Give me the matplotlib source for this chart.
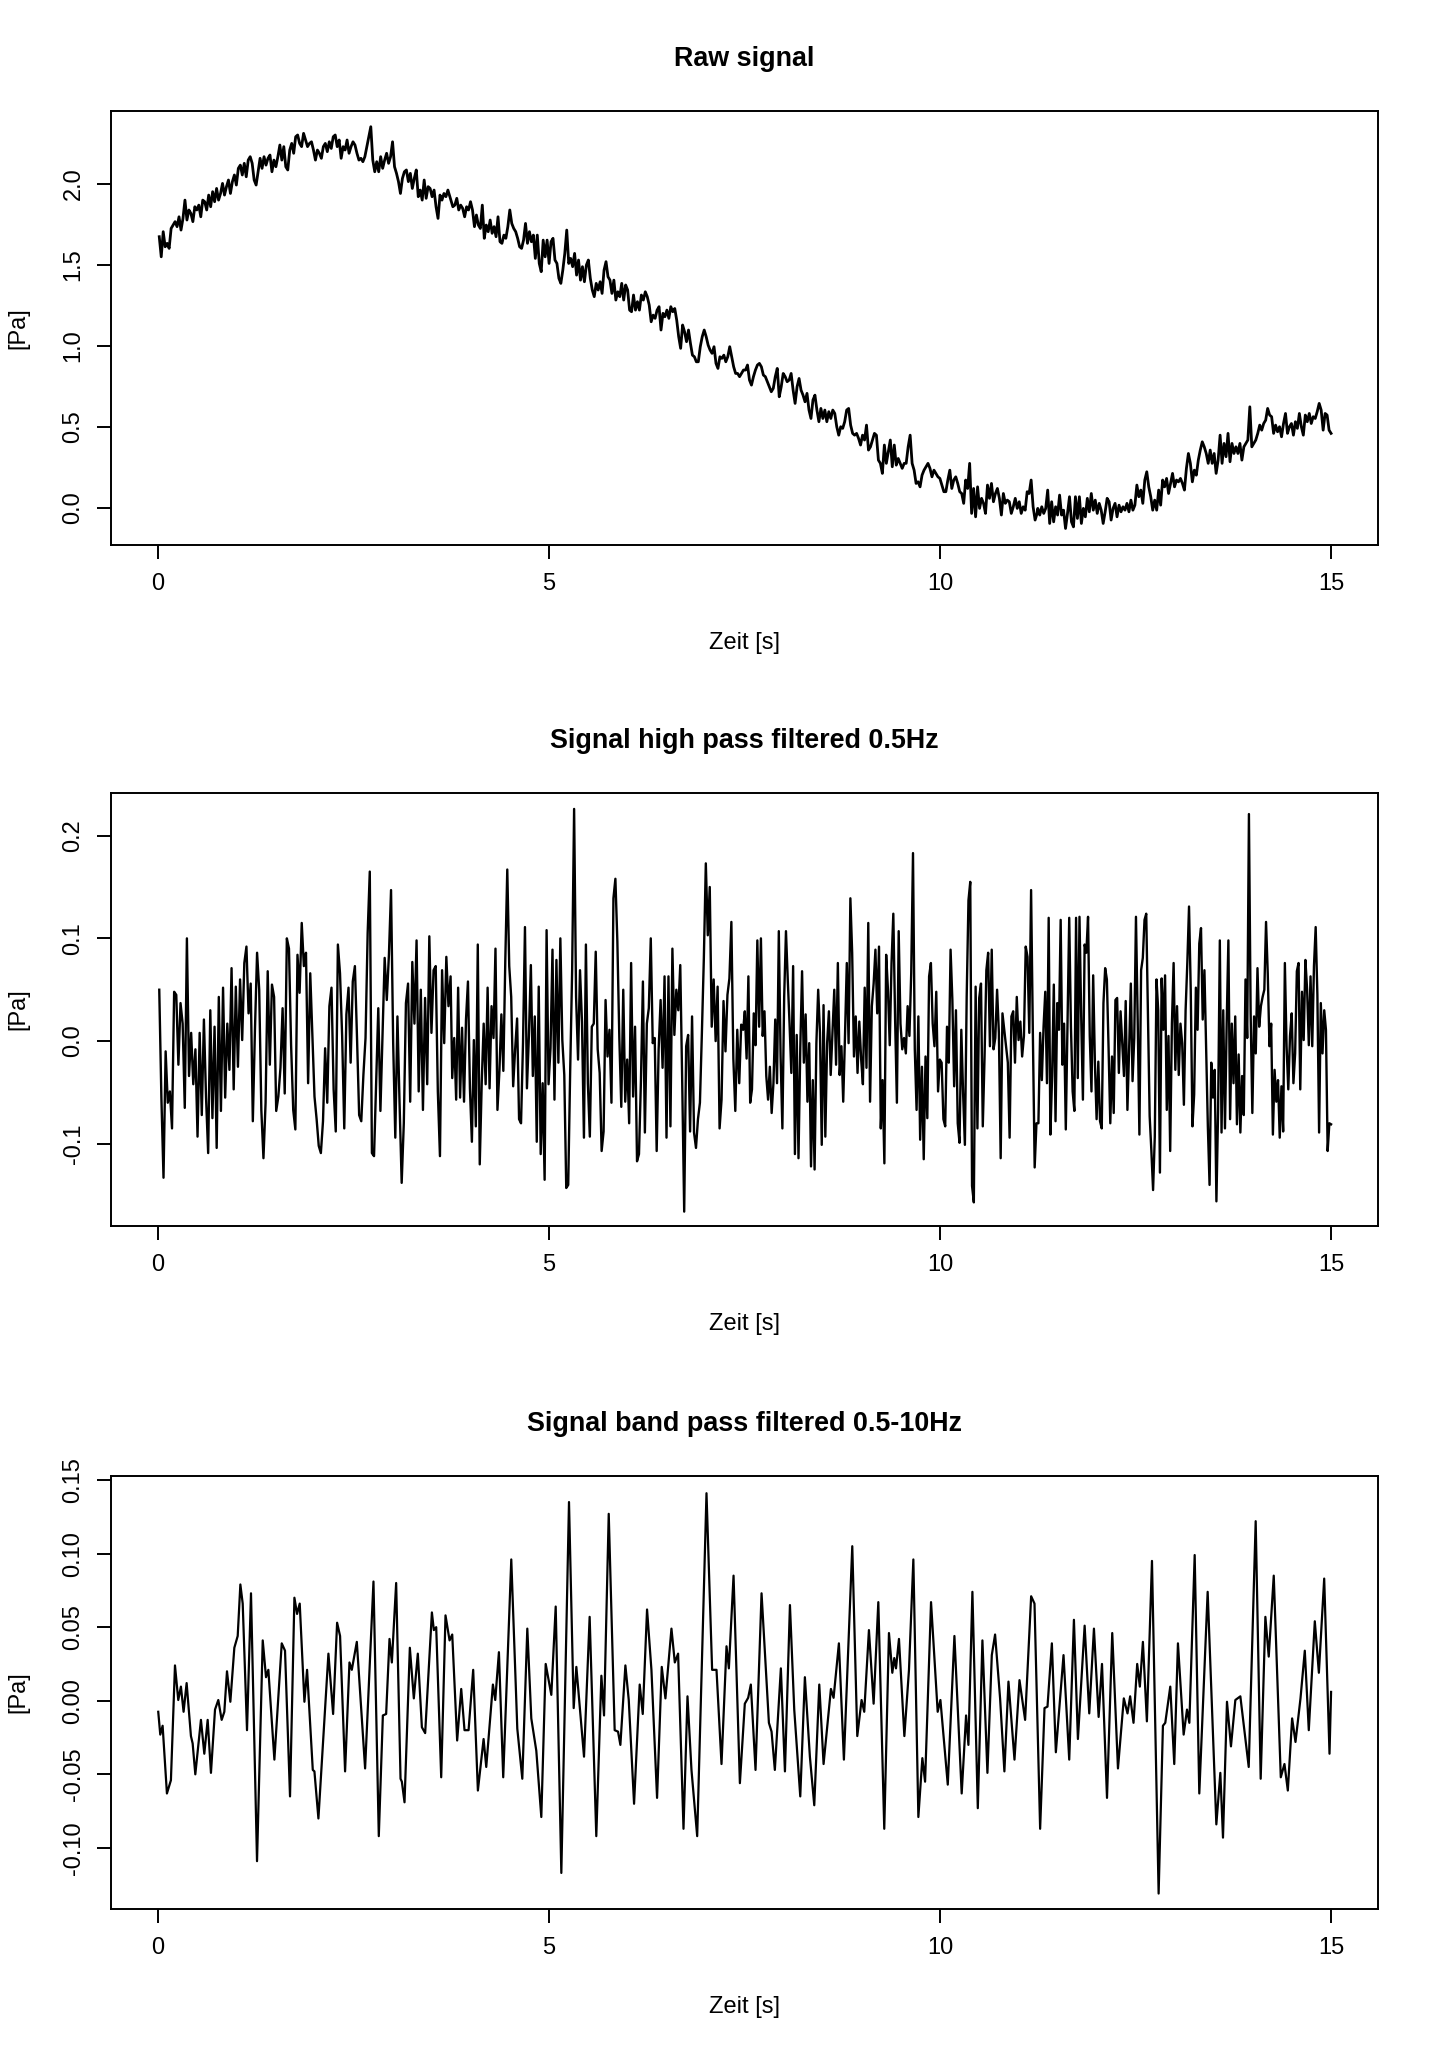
import numpy as np
import matplotlib
matplotlib.use("Agg")
import matplotlib.pyplot as plt

plt.rcParams['font.family'] = ['Liberation Sans', 'DejaVu Sans']

# ---------------- text ----------------
titles = ["Raw signal", "Signal high pass filtered 0.5Hz", "Signal band pass filtered 0.5-10Hz"]
x_label = "Zeit [s]"
y_label = "[Pa]"
x_ticks = [0, 5, 10, 15]
raw_yticks = [0.0, 0.5, 1.0, 1.5, 2.0]
raw_yticklabels = ["0.0", "0.5", "1.0", "1.5", "2.0"]
hp_yticks = [-0.1, 0.0, 0.1, 0.2]
hp_yticklabels = ["-0.1", "0.0", "0.1", "0.2"]
bp_yticks = [-0.10, -0.05, 0.00, 0.05, 0.10, 0.15]
bp_yticklabels = ["-0.10", "-0.05", "0.00", "0.05", "0.10", "0.15"]

# ---------------- raw signal (uniform samples per segment) ----------------
raw_bounds = [(0.017, 3.733), (3.771, 7.487), (7.513, 11.241), (11.250, 15.0)]
raw_seg1 = [1.675, 1.551, 1.706, 1.613, 1.634, 1.603, 1.726, 1.747, 1.768, 1.737, 1.798, 1.716, 1.788, 1.901,
            1.778, 1.840, 1.819, 1.768, 1.860, 1.840, 1.870, 1.798, 1.901, 1.891, 1.840, 1.932, 1.860, 1.953,
            1.891, 1.973, 1.901, 1.942, 2.004, 1.932, 1.984, 2.025, 1.942, 2.015, 2.056, 1.994, 2.097, 2.117,
            2.056, 2.128, 2.045, 2.148, 2.169, 2.128, 2.025, 1.994, 2.076, 2.159, 2.097, 2.169, 2.117, 2.159,
            2.179, 2.076, 2.148, 2.107, 2.169, 2.241, 2.148, 2.231, 2.107, 2.087, 2.210, 2.251, 2.190, 2.292,
            2.303, 2.251, 2.231, 2.313, 2.272, 2.231, 2.251, 2.261, 2.210, 2.148, 2.210, 2.190, 2.159, 2.231,
            2.251, 2.200, 2.261, 2.220, 2.292, 2.303, 2.231, 2.272, 2.159, 2.231, 2.210, 2.272, 2.190, 2.231,
            2.261, 2.241, 2.190, 2.148, 2.159, 2.138, 2.169, 2.231, 2.292, 2.354, 2.148, 2.076, 2.138, 2.076,
            2.169, 2.097, 2.148, 2.190, 2.128, 2.169, 2.261, 2.107, 2.066, 2.015, 1.942, 2.035, 2.076, 2.087,
            2.015, 2.066, 1.973, 2.035, 2.087, 1.922, 1.963, 1.901, 2.025, 1.912, 1.984, 1.973, 1.922, 1.963,
            1.860, 1.788, 1.932, 1.901, 1.942, 1.922, 1.963, 1.922]
raw_seg2 = [1.860, 1.870, 1.912, 1.840, 1.870, 1.850, 1.798, 1.860, 1.840, 1.891, 1.840, 1.737, 1.809, 1.747,
            1.726, 1.870, 1.665, 1.747, 1.706, 1.778, 1.696, 1.737, 1.675, 1.798, 1.644, 1.634, 1.685, 1.665,
            1.737, 1.840, 1.757, 1.726, 1.706, 1.665, 1.613, 1.603, 1.654, 1.757, 1.634, 1.706, 1.644, 1.685,
            1.541, 1.685, 1.510, 1.459, 1.654, 1.551, 1.654, 1.510, 1.644, 1.665, 1.531, 1.510, 1.418, 1.387,
            1.469, 1.572, 1.716, 1.510, 1.541, 1.490, 1.572, 1.438, 1.531, 1.407, 1.490, 1.397, 1.500, 1.531,
            1.418, 1.346, 1.305, 1.387, 1.346, 1.397, 1.325, 1.469, 1.521, 1.428, 1.407, 1.325, 1.407, 1.284,
            1.335, 1.305, 1.387, 1.284, 1.377, 1.346, 1.222, 1.212, 1.315, 1.222, 1.274, 1.222, 1.315, 1.284,
            1.335, 1.305, 1.253, 1.150, 1.191, 1.171, 1.222, 1.243, 1.099, 1.202, 1.181, 1.222, 1.171, 1.243,
            1.212, 1.232, 1.160, 1.058, 0.986, 1.130, 1.088, 1.027, 1.099, 1.016, 0.944, 0.934, 0.903, 0.903,
            0.996, 1.058, 1.099, 1.058, 1.006, 0.975, 0.955, 0.996, 0.893, 0.862, 0.934, 0.924, 0.944, 0.903,
            0.934, 0.996, 0.934, 0.872, 0.831, 0.831, 0.811, 0.831, 0.852]
raw_seg3 = [0.852, 0.883, 0.790, 0.759, 0.811, 0.852, 0.883, 0.893, 0.872, 0.821, 0.811, 0.780, 0.749, 0.718,
            0.739, 0.811, 0.862, 0.687, 0.749, 0.831, 0.811, 0.780, 0.790, 0.831, 0.728, 0.646, 0.749, 0.800,
            0.728, 0.697, 0.656, 0.708, 0.605, 0.553, 0.667, 0.697, 0.605, 0.533, 0.615, 0.553, 0.605, 0.533,
            0.595, 0.553, 0.605, 0.584, 0.502, 0.450, 0.502, 0.492, 0.533, 0.605, 0.615, 0.512, 0.461, 0.450,
            0.461, 0.430, 0.389, 0.450, 0.420, 0.512, 0.358, 0.378, 0.420, 0.461, 0.450, 0.296, 0.276, 0.214,
            0.389, 0.276, 0.348, 0.420, 0.255, 0.389, 0.265, 0.306, 0.276, 0.245, 0.276, 0.276, 0.378, 0.450,
            0.276, 0.234, 0.152, 0.162, 0.131, 0.203, 0.234, 0.255, 0.276, 0.245, 0.193, 0.234, 0.214, 0.193,
            0.183, 0.142, 0.101, 0.101, 0.173, 0.234, 0.121, 0.173, 0.193, 0.152, 0.101, 0.090, 0.029, 0.173,
            0.121, 0.276, -0.033, 0.121, -0.054, 0.131, -0.002, 0.060, 0.029, -0.033, 0.142, 0.060, 0.152,
            0.039, 0.090, 0.121, 0.060, -0.043, 0.090, 0.029, 0.049, 0.039, -0.033, 0.008, 0.060, -0.002,
            0.039, -0.033, 0.008, -0.013, 0.101, 0.090, 0.173, 0.008, -0.074, -0.033]
raw_seg4 = [-0.002, -0.043, 0.008, -0.033, -0.002, 0.111, -0.095, 0.039, -0.085, 0.008, -0.043, 0.080, -0.043,
            -0.013, -0.126, -0.033, 0.070, -0.085, -0.116, 0.070, -0.064, 0.070, -0.095, -0.002, -0.054, 0.060,
            -0.023, 0.090, -0.013, 0.049, -0.033, 0.029, -0.013, -0.095, -0.023, 0.060, 0.039, -0.074, -0.002,
            0.029, -0.054, 0.018, -0.023, 0.008, -0.013, 0.029, -0.023, 0.049, -0.013, 0.018, 0.142, 0.070,
            0.111, 0.029, 0.173, 0.224, 0.131, 0.070, -0.013, 0.049, -0.013, 0.111, 0.018, 0.173, 0.131, 0.183,
            0.090, 0.152, 0.214, 0.131, 0.173, 0.162, 0.183, 0.152, 0.111, 0.245, 0.337, 0.276, 0.162, 0.234,
            0.203, 0.296, 0.358, 0.409, 0.378, 0.337, 0.276, 0.358, 0.276, 0.337, 0.214, 0.296, 0.450, 0.276,
            0.399, 0.317, 0.461, 0.286, 0.399, 0.337, 0.378, 0.337, 0.399, 0.296, 0.378, 0.399, 0.420, 0.625,
            0.378, 0.399, 0.420, 0.461, 0.512, 0.481, 0.522, 0.543, 0.615, 0.574, 0.564, 0.461, 0.512, 0.471,
            0.502, 0.440, 0.522, 0.584, 0.461, 0.502, 0.522, 0.450, 0.533, 0.492, 0.584, 0.502, 0.450, 0.574,
            0.533, 0.584, 0.522, 0.564, 0.553, 0.595, 0.646, 0.605, 0.481, 0.584, 0.574, 0.481, 0.461]

# ---------------- high pass signal ----------------
hp_bounds = [(0.017, 3.742), (3.763, 7.483), (7.504, 11.233), (11.258, 15.0)]
hp_seg1 = [0.050, -0.055, -0.133, -0.010, -0.060, -0.049, -0.085, 0.048, 0.045, -0.023,
           0.037, 0.017, -0.065, 0.100, -0.034, 0.008, -0.042, -0.008, -0.093, 0.008,
           -0.072, 0.021, -0.055, -0.109, 0.030, -0.075, 0.014, -0.104, 0.043, -0.068,
           0.052, -0.055, 0.017, -0.028, 0.071, -0.047, 0.053, -0.025, 0.060, 0.001,
           0.076, 0.092, 0.027, 0.056, -0.078, 0.011, 0.086, 0.050, -0.067, -0.114,
           -0.060, 0.068, -0.023, 0.055, 0.043, -0.068, -0.054, -0.026, 0.032, -0.051,
           0.100, 0.090, -0.004, -0.067, -0.086, 0.084, 0.047, 0.115, 0.073, 0.086,
           -0.041, 0.066, 0.005, -0.054, -0.076, -0.102, -0.109, -0.078, -0.007, -0.060,
           0.034, 0.052, -0.047, -0.088, 0.094, 0.066, 0.005, -0.085, 0.026, 0.052,
           -0.021, 0.058, 0.073, 0.003, -0.072, -0.078, -0.033, 0.003, 0.105, 0.165,
           -0.109, -0.112, -0.041, 0.032, -0.068, 0.006, 0.081, 0.040, 0.084, 0.147,
           -0.002, -0.094, 0.024, -0.060, -0.138, -0.080, 0.037, 0.056, -0.059, 0.077,
           0.017, 0.098, -0.049, 0.050, -0.067, 0.042, -0.042, 0.102, 0.008, 0.069,
           0.073, -0.049, -0.112, 0.069, -0.002, 0.082, 0.034, 0.063]
hp_seg2 = [-0.036, 0.003, -0.057, 0.052, -0.055, 0.013, -0.059, 0.021, 0.058, -0.046, -0.098, 0.001, -0.083,
           0.094, -0.120, -0.041, 0.017, -0.042, 0.052, -0.046, 0.034, 0.003, 0.090, -0.067, -0.029, 0.026,
           -0.029, 0.079, 0.167, 0.073, 0.043, -0.044, -0.008, 0.022, -0.076, -0.080, -0.002, 0.111, -0.046,
           0.005, 0.074, -0.034, 0.024, -0.098, 0.053, -0.110, -0.041, -0.135, 0.108, -0.042, -0.007, 0.089,
           -0.057, 0.079, -0.021, 0.100, 0.001, -0.033, -0.143, -0.140, -0.029, 0.069, 0.226, 0.043, -0.018,
           0.069, 0.019, -0.094, 0.094, -0.041, -0.093, 0.014, 0.017, 0.087, -0.008, -0.031, -0.107, -0.088,
           0.040, -0.015, 0.011, -0.060, 0.139, 0.158, 0.097, 0.003, -0.064, 0.050, -0.059, -0.018, -0.080,
           0.076, -0.054, 0.014, -0.117, -0.110, -0.038, 0.058, -0.089, 0.017, 0.032, 0.100, -0.002, 0.003,
           -0.107, -0.008, 0.040, -0.026, 0.063, -0.094, 0.063, -0.083, 0.090, 0.006, 0.050, 0.030, 0.074,
           -0.041, -0.166, -0.005, 0.006, -0.088, 0.024, -0.089, -0.104, -0.076, -0.060, 0.008, 0.081, 0.173,
           0.103, 0.150, 0.014, 0.060, 0.000, 0.053, -0.085, -0.057, 0.039, -0.010, 0.045, 0.061, 0.116,
           -0.017, -0.068, 0.011, -0.041, 0.016, 0.011]
hp_seg3 = [0.029, -0.017, 0.063, -0.060, -0.047, 0.027, -0.004, 0.098, 0.014, 0.100, 0.005, 0.029, -0.034,
           -0.057, -0.025, -0.070, -0.041, 0.021, -0.041, 0.107, -0.015, -0.085, 0.043, 0.107, 0.060, 0.017,
           -0.031, 0.073, -0.110, 0.006, -0.114, -0.007, 0.068, -0.021, 0.026, -0.059, -0.002, -0.122, -0.038,
           -0.125, -0.002, 0.050, 0.008, -0.101, 0.035, -0.093, -0.002, 0.029, -0.033, 0.008, 0.050, -0.023,
           0.076, -0.033, -0.005, -0.059, 0.006, 0.076, -0.002, 0.139, 0.086, -0.015, 0.024, -0.031, 0.019,
           -0.017, -0.042, 0.052, -0.026, 0.115, -0.059, 0.034, 0.056, 0.089, 0.027, 0.092, -0.085, -0.038,
           -0.119, 0.084, 0.050, -0.004, 0.076, 0.124, 0.021, -0.060, 0.107, 0.017, -0.008, 0.003, -0.012,
           0.034, 0.005, 0.066, 0.183, -0.008, -0.067, 0.024, -0.096, -0.025, -0.115, -0.015, -0.075, 0.063,
           0.076, 0.017, -0.005, 0.048, -0.049, -0.018, -0.021, -0.076, -0.083, 0.014, -0.021, 0.089, 0.040,
           -0.044, 0.030, -0.080, -0.099, 0.011, -0.051, -0.101, 0.043, 0.137, 0.155, -0.141, -0.157, 0.053,
           -0.085, 0.042, 0.056, -0.083, -0.015, 0.069, 0.086, -0.005, 0.089, -0.008, 0.003, 0.050, 0.008,
           -0.114, 0.027, 0.011, -0.005, -0.021, -0.094, 0.024, 0.029, -0.021, 0.043, 0.001, 0.019, -0.015,
           0.005, 0.092, 0.082, 0.008, 0.147, 0.006, -0.123, -0.080]
hp_seg4 = [-0.080, 0.008, -0.038, 0.014, 0.048, -0.041, 0.120, -0.091, -0.034, 0.055, -0.078, 0.037, 0.011,
           0.118, -0.023, 0.017, -0.086, 0.017, 0.120, 0.014, -0.049, -0.068, 0.120, -0.036, 0.121, 0.024,
           -0.057, 0.094, 0.086, 0.121, 0.005, -0.049, 0.064, -0.021, -0.076, -0.020, -0.078, -0.085, 0.037,
           0.071, 0.060, -0.007, -0.080, -0.015, -0.070, 0.040, 0.042, -0.031, 0.029, -0.002, -0.034, 0.039,
           -0.067, -0.008, 0.056, -0.039, 0.003, 0.121, 0.021, -0.091, 0.069, 0.081, 0.118, 0.124, 0.024,
           -0.073, -0.107, -0.145, -0.093, 0.060, 0.030, -0.128, 0.061, 0.011, 0.064, -0.067, 0.005, -0.107,
           0.017, 0.076, -0.028, 0.034, -0.033, 0.017, -0.002, -0.062, 0.030, 0.076, 0.131, 0.050, -0.083,
           -0.052, 0.052, 0.011, 0.095, 0.110, 0.021, 0.069, -0.008, -0.083, -0.140, -0.021, -0.055, -0.028,
           -0.156, -0.067, 0.098, -0.089, 0.030, -0.085, 0.017, 0.098, -0.076, 0.017, -0.041, 0.024, -0.081,
           -0.013, -0.089, -0.034, -0.072, 0.060, 0.003, 0.221, 0.027, -0.070, 0.024, -0.012, 0.071, 0.014,
           0.034, 0.043, 0.050, 0.116, 0.066, -0.005, 0.017, -0.091, -0.028, -0.059, -0.038, -0.094, -0.044,
           -0.088, 0.076, -0.005, -0.047, 0.005, 0.027, -0.041, -0.012, 0.068, 0.076, -0.047, 0.048, 0.001,
           0.079, 0.050, -0.004, 0.063, -0.005, 0.073, 0.111, 0.045, -0.089, 0.037, -0.012, 0.030, 0.011,
           -0.107, -0.080, -0.081]

# ---------------- band pass signal: (time, value) readings ----------------
bp_points = [
    (0.004, -0.0075), (0.030, -0.023), (0.060, -0.017), (0.115, -0.063), (0.166, -0.054), (0.218, 0.024),
    (0.260, 0.0005), (0.294, 0.0096), (0.328, -0.0075), (0.367, 0.012), (0.422, -0.024), (0.444, -0.029),
    (0.478, -0.050), (0.550, -0.013), (0.593, -0.036), (0.636, -0.013), (0.678, -0.049), (0.730, -0.006),
    (0.772, 0.0005), (0.815, -0.013), (0.849, -0.0075), (0.883, 0.020), (0.926, -0.0007), (0.977, 0.036),
    (1.020, 0.044), (1.054, 0.079), (1.084, 0.066), (1.139, -0.020), (1.190, 0.073), (1.267, -0.109),
    (1.340, 0.041), (1.382, 0.016), (1.412, 0.021), (1.489, -0.040), (1.583, 0.039), (1.625, 0.034),
    (1.689, -0.065), (1.745, 0.070), (1.779, 0.059), (1.813, 0.066), (1.873, -0.0007), (1.907, 0.021),
    (1.980, -0.047), (2.001, -0.048), (2.052, -0.080), (2.180, 0.032), (2.240, -0.009), (2.291, 0.053),
    (2.329, 0.044), (2.393, -0.048), (2.449, 0.026), (2.479, 0.021), (2.543, 0.040), (2.649, -0.046),
    (2.756, 0.081), (2.824, -0.092), (2.876, -0.010), (2.918, -0.009), (2.961, 0.042), (2.991, 0.026),
    (3.046, 0.080), (3.102, -0.053), (3.119, -0.055), (3.153, -0.069), (3.221, 0.036), (3.272, 0.0016),
    (3.323, 0.032), (3.375, -0.018), (3.417, -0.022), (3.503, 0.060), (3.528, 0.048), (3.558, 0.050),
    (3.622, -0.052),
    (3.677, 0.058), (3.729, 0.041), (3.763, 0.045), (3.826, -0.027), (3.878, 0.008), (3.920, -0.020),
    (3.972, -0.020), (4.031, 0.021), (4.091, -0.061), (4.164, -0.026), (4.198, -0.045), (4.283, 0.011),
    (4.313, 0.0005), (4.360, 0.033), (4.415, -0.052), (4.518, 0.096), (4.595, -0.019), (4.659, -0.053),
    (4.723, 0.049), (4.774, -0.012), (4.838, -0.034), (4.902, -0.079), (4.958, 0.025), (5.030, 0.004),
    (5.086, 0.064), (5.158, -0.117), (5.256, 0.135), (5.316, -0.005), (5.350, 0.023), (5.448, -0.038),
    (5.520, 0.057), (5.605, -0.092), (5.670, 0.017), (5.704, -0.010), (5.764, 0.127), (5.840, -0.020),
    (5.883, -0.021), (5.913, -0.030), (5.977, 0.024), (6.020, 0.0005), (6.088, -0.070), (6.160, 0.011),
    (6.199, -0.009), (6.254, 0.062), (6.310, 0.021), (6.382, -0.066), (6.442, 0.023), (6.489, 0.0016),
    (6.566, 0.049), (6.609, 0.026), (6.651, 0.032), (6.720, -0.087), (6.771, 0.003), (6.822, -0.047),
    (6.895, -0.092), (7.014, 0.141), (7.086, 0.021), (7.142, 0.021), (7.206, -0.043), (7.270, 0.037),
    (7.300, 0.022), (7.360, 0.085), (7.441, -0.056),
    (7.504, -0.002), (7.547, 0.002), (7.581, 0.011), (7.641, -0.047), (7.718, 0.073), (7.812, -0.015),
    (7.846, -0.021), (7.888, -0.047), (7.965, 0.022), (8.017, -0.048), (8.081, 0.065), (8.136, -0.006),
    (8.213, -0.065), (8.272, 0.016), (8.336, -0.038), (8.392, -0.071), (8.456, 0.011), (8.511, -0.043),
    (8.605, 0.008), (8.639, 0.002), (8.707, 0.039), (8.771, -0.040), (8.878, 0.105), (8.942, -0.024),
    (8.997, 0.0005), (9.031, -0.0075), (9.091, 0.048), (9.151, -0.002), (9.211, 0.067), (9.287, -0.087),
    (9.347, 0.046), (9.390, 0.019), (9.415, 0.029), (9.437, 0.022), (9.475, 0.042), (9.544, -0.024),
    (9.603, 0.021), (9.659, 0.096), (9.723, -0.079), (9.774, -0.039), (9.809, -0.055), (9.885, 0.067),
    (9.970, -0.0075), (10.005, 0.0005), (10.099, -0.057), (10.184, 0.044), (10.277, -0.063), (10.333, -0.010),
    (10.363, -0.030), (10.414, 0.074), (10.483, -0.073), (10.542, 0.041), (10.606, -0.049), (10.662, 0.031),
    (10.704, 0.045), (10.768, 0.0016), (10.823, -0.048), (10.875, 0.013), (10.952, -0.040), (11.016, 0.014),
    (11.088, -0.013), (11.165, 0.071), (11.208, 0.066),
    (11.280, -0.087), (11.336, -0.005), (11.374, -0.004), (11.430, 0.039), (11.481, -0.035), (11.579, 0.031),
    (11.652, -0.040), (11.712, 0.055), (11.763, -0.026), (11.849, 0.051), (11.908, -0.0086), (11.968, 0.049),
    (12.028, -0.011), (12.071, 0.025), (12.135, -0.066), (12.202, 0.046), (12.275, -0.046), (12.350, 0.0016),
    (12.397, -0.0086), (12.431, 0.003), (12.474, -0.015), (12.521, 0.025), (12.555, 0.0096), (12.594, 0.040),
    (12.645, -0.014), (12.710, 0.095), (12.795, -0.131), (12.850, -0.017), (12.880, -0.015), (12.944, 0.0096),
    (12.995, -0.043), (13.042, 0.039), (13.115, -0.023), (13.158, -0.006), (13.188, -0.015), (13.256, 0.099),
    (13.315, -0.063), (13.422, 0.074), (13.533, -0.084), (13.584, -0.049), (13.618, -0.093), (13.669, -0.0007),
    (13.720, -0.031), (13.776, 0.0005), (13.840, 0.003), (13.947, -0.045), (14.036, 0.122), (14.100, -0.053),
    (14.160, 0.057), (14.203, 0.030), (14.267, 0.085), (14.357, -0.052), (14.404, -0.043), (14.447, -0.061),
    (14.502, -0.012), (14.545, -0.028), (14.609, 0.0016), (14.664, 0.034), (14.715, -0.020), (14.792, 0.054),
    (14.844, 0.019), (14.912, 0.083), (14.980, -0.036), (15.0, 0.006),
]


def build(bounds, segs):
    t, v = [], []
    for (a, b), vals in zip(bounds, segs):
        t.extend(np.linspace(a, b, len(vals)))
        v.extend(vals)
    return np.array(t), np.array(v)


raw_t, raw_v = build(raw_bounds, [raw_seg1, raw_seg2, raw_seg3, raw_seg4])
hp_t, hp_v = build(hp_bounds, [hp_seg1, hp_seg2, hp_seg3, hp_seg4])
bp_t = np.array([p[0] for p in bp_points])
bp_v = np.array([p[1] for p in bp_points])

W, H = 1434, 2048
fig = plt.figure(figsize=(W / 100, H / 100), dpi=100)
fig.patch.set_facecolor('white')

left = 111 / W
width = (1378 - 111) / W
rects = [
    [left, 1 - 545 / H, width, 434 / H],
    [left, 1 - 1226 / H, width, 433 / H],
    [left, 1 - 1909 / H, width, 433 / H],
]

panels = [
    (raw_t, raw_v, (-0.228, 2.451), raw_yticks, raw_yticklabels, 2.0),
    (hp_t, hp_v, (-0.180, 0.2415), hp_yticks, hp_yticklabels, 1.7),
    (bp_t, bp_v, (-0.1415, 0.1527), bp_yticks, bp_yticklabels, 1.6),
]

PX = 0.72  # points per pixel at 100 dpi
for rect, (t, v, ylim, yt, ytl, lw), title in zip(rects, panels, titles):
    ax = fig.add_axes(rect)
    ax.plot(t, v, color='black', linewidth=lw, solid_joinstyle='round')
    ax.set_xlim(-0.6, 15.6)
    ax.set_ylim(*ylim)
    ax.set_xticks(x_ticks)
    ax.set_xticklabels([str(x) for x in x_ticks])
    ax.set_yticks(yt)
    ax.set_yticklabels(ytl, rotation=90, va='center')
    ax.tick_params(direction='out', length=10, width=1.4, labelsize=17, colors='black')
    ax.tick_params(axis='x', pad=10.5)
    ax.tick_params(axis='y', pad=9)
    for s in ax.spines.values():
        s.set_linewidth(1.4)
        s.set_color('black')
    ax.annotate(title, xy=(0.5, 1), xycoords='axes fraction', xytext=(0, 52 * PX),
                textcoords='offset points', ha='center', va='center', fontsize=19.4, fontweight='bold')
    ax.annotate(x_label, xy=(0.5, 0), xycoords='axes fraction', xytext=(0, -98 * PX),
                textcoords='offset points', ha='center', va='center', fontsize=17)
    ax.annotate(y_label, xy=(0, 0.5), xycoords='axes fraction', xytext=(-93 * PX, 0),
                textcoords='offset points', ha='center', va='center', fontsize=17, rotation=90)

fig.savefig('out.png', dpi=100, facecolor='white')
